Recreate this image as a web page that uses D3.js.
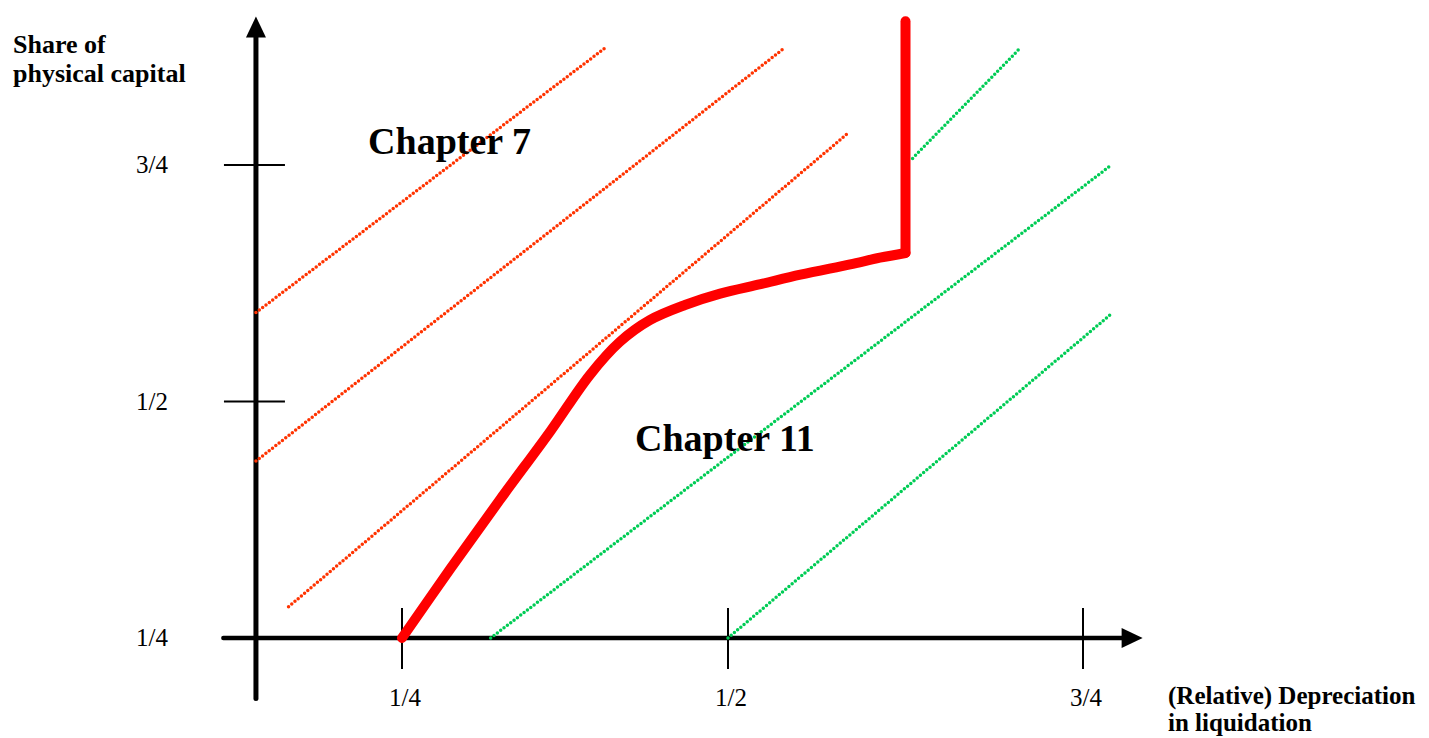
<!DOCTYPE html>
<html>
<head>
<meta charset="utf-8">
<script src="https://cdn.jsdelivr.net/npm/d3@7"></script>
<style>
  html, body { margin: 0; padding: 0; background: #fff; }
  svg { display: block; }
  text { font-family: "Liberation Serif", "Times New Roman", Times, serif; fill: #000; }
</style>
</head>
<body>
<svg id="chart" width="1429" height="738"></svg>
<script>
// ---- Data (in chart units) ----
const xTicks = [0.25, 0.5, 0.75];
const xTickLabels = ["1/4", "1/2", "3/4"];
const yTicks = [0.25, 0.5, 0.75];
const yTickLabels = ["1/4", "1/2", "3/4"];

// Iso-lines in the Chapter 7 region (red dotted)
const redLines = [
  [[0.138, 0.594], [0.406, 0.874]],
  [[0.138, 0.437], [0.540, 0.874]],
  [[0.163, 0.283], [0.584, 0.783]]
];
// Iso-lines in the Chapter 11 region (green dotted)
const greenLines = [
  [[0.318, 0.250], [0.770, 0.750]],
  [[0.500, 0.250], [0.771, 0.594]],
  [[0.630, 0.757], [0.706, 0.874]]
];
// Boundary between Chapter 7 and Chapter 11 (curved part)
const boundaryX = [0.250, 0.287, 0.325, 0.364, 0.394, 0.417, 0.440, 0.467, 0.494, 0.523, 0.551, 0.586, 0.607, 0.625];
const boundaryY = [0.250, 0.323, 0.396, 0.469, 0.528, 0.563, 0.586, 0.602, 0.614, 0.624, 0.634, 0.645, 0.652, 0.657];
// vertical part of the boundary
const boundaryTopY = 0.902;

const regionLabels = ["Chapter 7", "Chapter 11"];
const yTitle = ["Share of", "physical capital"];
const xTitle = ["(Relative) Depreciation", "in liquidation"];

// ---- Scales ----
const x = d3.scaleLinear().domain([0.25, 0.5, 0.75]).range([402, 728, 1083]);
const y = d3.scaleLinear().domain([0.25, 0.75]).range([638, 165]);

// axis geometry in chart units
const yAxisAtX = 0.138, xAxisAtY = 0.25;
const xAxisExtent = [0.113, 0.778], xArrowTip = 0.792;
const yAxisExtent = [0.186, 0.893], yArrowTip = 0.907;

const svg = d3.select("#chart");

// ---- Axes ----
const ax = svg.append("g");
ax.append("line")
  .attr("x1", x(xAxisExtent[0])).attr("x2", x(xAxisExtent[1]))
  .attr("y1", y(xAxisAtY)).attr("y2", y(xAxisAtY))
  .attr("stroke", "#000").attr("stroke-width", 4.5).attr("stroke-linecap", "round");
ax.append("line")
  .attr("x1", x(yAxisAtX)).attr("x2", x(yAxisAtX))
  .attr("y1", y(yAxisExtent[0])).attr("y2", y(yAxisExtent[1]))
  .attr("stroke", "#000").attr("stroke-width", 5).attr("stroke-linecap", "round");

// arrowheads
const xt = x(xArrowTip), y0 = y(xAxisAtY);
ax.append("path").attr("d", `M${xt},${y0} L${xt - 21},${y0 - 10} L${xt - 21},${y0 + 10} Z`).attr("fill", "#000");
const yt = y(yArrowTip), x0 = x(yAxisAtX);
ax.append("path").attr("d", `M${x0},${yt} L${x0 - 10},${yt + 21} L${x0 + 10},${yt + 21} Z`).attr("fill", "#000");

// ticks
ax.selectAll(".xtick").data(xTicks).join("line")
  .attr("x1", d => x(d)).attr("x2", d => x(d))
  .attr("y1", y0 - 30).attr("y2", y0 + 31)
  .attr("stroke", "#000").attr("stroke-width", 2);
ax.selectAll(".ytick").data(yTicks).join("line")
  .attr("x1", x0 - 32).attr("x2", x0 + 29)
  .attr("y1", d => y(d)).attr("y2", d => y(d))
  .attr("stroke", "#000").attr("stroke-width", 2);

// tick labels
ax.selectAll(".xlab").data(xTicks).join("text")
  .attr("x", d => x(d) + 3).attr("y", y0 + 68)
  .attr("text-anchor", "middle").attr("font-size", 25)
  .text((d, i) => xTickLabels[i]);
ax.selectAll(".ylab").data(yTicks).join("text")
  .attr("x", 168).attr("y", d => y(d) + 8)
  .attr("text-anchor", "end").attr("font-size", 25)
  .text((d, i) => yTickLabels[i]);

// ---- Dotted iso-lines ----
const line = d3.line().x(d => x(d[0])).y(d => y(d[1]));
svg.append("g").selectAll("path").data(redLines).join("path")
  .attr("d", line).attr("fill", "none")
  .attr("stroke", "#FF3300").attr("stroke-width", 3.5)
  .attr("stroke-linecap", "round").attr("stroke-dasharray", "0 4.2");
svg.append("g").selectAll("path").data(greenLines).join("path")
  .attr("d", line).attr("fill", "none")
  .attr("stroke", "#00CC55").attr("stroke-width", 3.5)
  .attr("stroke-linecap", "round").attr("stroke-dasharray", "0 4.2");

// ---- Boundary curve ----
const boundary = boundaryX.map((v, i) => [v, boundaryY[i]]);
const smooth = d3.line().x(d => x(d[0])).y(d => y(d[1])).curve(d3.curveCatmullRom.alpha(0.5));
const bg = svg.append("g").attr("fill", "none").attr("stroke", "#FF0000")
  .attr("stroke-width", 10).attr("stroke-linecap", "round").attr("stroke-linejoin", "round");
bg.append("path").attr("d", smooth(boundary));
const last = boundary[boundary.length - 1];
bg.append("path").attr("d", line([last, [last[0], boundaryTopY]]));

// ---- Region labels ----
svg.append("text").attr("x", x(0.224)).attr("y", y(0.7616))
  .attr("font-size", 38).attr("font-weight", "bold").text(regionLabels[0]);
svg.append("text").attr("x", x(0.4287)).attr("y", y(0.4477))
  .attr("font-size", 38).attr("font-weight", "bold").text(regionLabels[1]);

// ---- Axis titles ----
svg.append("g").selectAll("text").data(yTitle).join("text")
  .attr("x", 13).attr("y", (d, i) => 53 + i * 29)
  .attr("font-size", 26).attr("font-weight", "bold").text(d => d);
svg.append("g").selectAll("text").data(xTitle).join("text")
  .attr("x", 1168).attr("y", (d, i) => 704 + i * 27)
  .attr("font-size", 25).attr("font-weight", "bold").text(d => d);
</script>
</body>
</html>
